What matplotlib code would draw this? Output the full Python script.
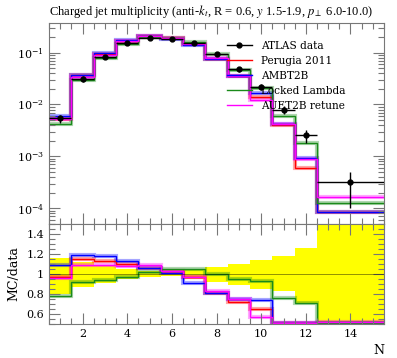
import numpy as np
import matplotlib
matplotlib.use("Agg")
import matplotlib.pyplot as plt
from matplotlib.ticker import FixedLocator, MultipleLocator, FuncFormatter, LogLocator, NullFormatter
from matplotlib.lines import Line2D

plt.rcParams['font.family'] = ['DejaVu Serif']
plt.rcParams['mathtext.fontset'] = 'dejavuserif'

# ---- data ----
edges = [0.5, 1.5, 2.5, 3.5, 4.5, 5.5, 6.5, 7.5, 8.5, 9.5, 10.5, 11.5, 12.5, 15.5]
centers = [1, 2, 3, 4, 5, 6, 7, 8, 9, 10, 11, 12, 14]
atlas = [5.4e-3, 0.0316, 0.082, 0.152, 0.194, 0.183, 0.151, 0.094, 0.048, 0.022, 0.0080, 0.0026, 3.2e-4]
atlas_err_up = [0.16, 0.125, 0.09, 0.055, 0.03, 0.02, 0.055, 0.075, 0.105, 0.145, 0.185, 0.26, 0.56]
atlas_err_dn = [0.20, 0.125, 0.09, 0.05, 0.025, 0.02, 0.05, 0.075, 0.105, 0.145, 0.17, 0.29, 0.68]

perugia = [5.24e-3, 0.0363, 0.0927, 0.1666, 0.2056, 0.1885, 0.1459, 0.0761, 0.0347, 0.01421, 0.00408, 5.98e-4, 8.6e-5]
ambt2b = [5.89e-3, 0.0376, 0.0968, 0.1722, 0.2053, 0.1852, 0.1379, 0.0764, 0.0358, 0.01639, 0.00412, 9.36e-4, 8.6e-5]
locked = [4.23e-3, 0.0291, 0.0771, 0.1479, 0.1973, 0.1914, 0.1579, 0.0943, 0.0456, 0.02053, 0.00610, 1.836e-3, 1.25e-4]
auet2b = [5.18e-3, 0.0344, 0.0894, 0.1646, 0.2115, 0.1894, 0.1465, 0.0783, 0.0360, 0.01245, 0.00412, 9.1e-4, 1.66e-4]

labels = ['ATLAS data', 'Perugia 2011', 'AMBT2B', 'Locked Lambda', 'AUET2B retune']
colors = ['#ff0000', '#0000ff', '#1a8a1a', '#ff00ff']

W, H = 397, 358
fig = plt.figure(figsize=(W/100, H/100), dpi=100)
L, R = 49, 384
ax = fig.add_axes([L/W, (H-224)/H, (R-L)/W, (224-23.3)/H])
axr = fig.add_axes([L/W, (H-324)/H, (R-L)/W, 100/H], sharex=ax)

edges_a = np.array(edges)
atlas_a = np.array(atlas)
mcs = [np.array(perugia), np.array(ambt2b), np.array(locked), np.array(auet2b)]

# main panel
for mc, c in zip(mcs, colors):
    ax.stairs(mc, edges_a, baseline=None, color=c, lw=3, alpha=0.35)
for mc, c in zip(mcs, colors):
    ax.stairs(mc, edges_a, baseline=None, color=c, lw=1.0)

xerr = np.vstack([np.array(centers) - edges_a[:-1], edges_a[1:] - np.array(centers)])
yerr = np.vstack([atlas_a * np.array(atlas_err_dn), atlas_a * np.array(atlas_err_up)])
ax.errorbar(centers, atlas_a, xerr=xerr, yerr=yerr, fmt='o', color='black', ms=3.5,
            lw=1.0, capsize=0, zorder=5)

ax.set_yscale('log')
ax.set_ylim(5e-5, 0.366)
ax.set_xlim(0.5, 15.5)
ax.yaxis.set_major_locator(FixedLocator([1e-4, 1e-3, 1e-2, 1e-1]))
ax.yaxis.set_minor_locator(LogLocator(base=10, subs=np.arange(2, 10)))
ax.yaxis.set_minor_formatter(NullFormatter())
ax.yaxis.set_major_formatter(FuncFormatter(lambda v, p: r'$10^{%d}$' % int(round(np.log10(v)))))
ax.tick_params(labelbottom=False)

handles = [Line2D([], [], color='black', marker='o', ms=3.5, lw=1.0)] + \
          [Line2D([], [], color=c, lw=1.0) for c in colors]
ax.legend(handles, labels, loc='upper left', bbox_to_anchor=(0.531, 0.913), frameon=False,
          fontsize=7.6, handlelength=2.37, handletextpad=0.85, labelspacing=0.47,
          borderaxespad=0, borderpad=0)

ax.set_title('Charged jet multiplicity (anti-$k_t$, R = 0.6, $y$ 1.5-1.9, $p_\\perp$ 6.0-10.0)',
             loc='left', fontsize=9.0, pad=6, family='Liberation Serif',
             math_fontfamily='stix')

# ratio panel
up = 1 + np.array(atlas_err_up)
dn = 1 - np.array(atlas_err_dn)
axr.stairs(up, edges_a, baseline=dn, fill=True, color='#ffff00', lw=0)
axr.axhline(1.0, color='black', lw=0.6, alpha=0.5)
for mc, c in zip(mcs, colors):
    ratio = np.clip(mc / atlas_a, 0.506, None)
    axr.stairs(ratio, edges_a, baseline=None, color=c, lw=3, alpha=0.35)
for mc, c in zip(mcs, colors):
    ratio = np.clip(mc / atlas_a, 0.506, None)
    axr.stairs(ratio, edges_a, baseline=None, color=c, lw=1.0)

axr.set_ylim(0.5, 1.5)
axr.yaxis.set_major_locator(FixedLocator([0.6, 0.8, 1.0, 1.2, 1.4]))
axr.yaxis.set_major_formatter(FuncFormatter(lambda v, p: '%g' % v))
axr.yaxis.set_minor_locator(MultipleLocator(0.05))
axr.xaxis.set_major_locator(FixedLocator([2, 4, 6, 8, 10, 12, 14]))
axr.xaxis.set_minor_locator(MultipleLocator(0.5))
axr.set_ylabel('MC/data', fontsize=9, labelpad=4)
axr.set_xlabel('N', fontsize=9, loc='right', labelpad=4)

for a in (ax, axr):
    a.tick_params(which='both', direction='in', top=True, right=True, color='#777777',
                  labelsize=8, width=0.8)
    a.tick_params(which='major', length=8)
    a.tick_params(which='minor', length=4)
    for s in a.spines.values():
        s.set_color('#777777')
        s.set_linewidth(0.8)
    a.set_xlim(0.5, 15.5)

fig.savefig('out.png', dpi=100)
